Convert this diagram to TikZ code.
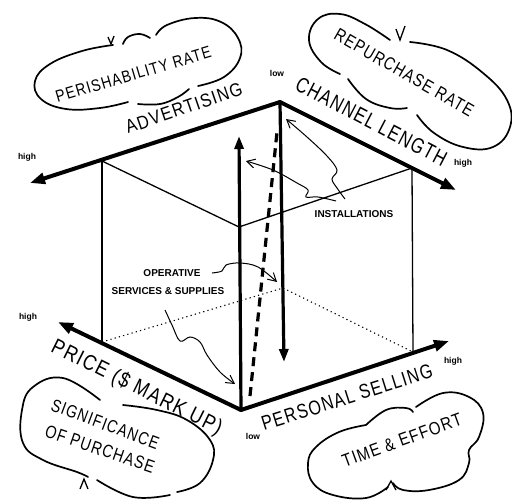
\documentclass[tikz,border=0pt]{standalone}
\usepackage{fontspec}
\setmainfont{Liberation Sans}
\newfontfamily\lett[LetterSpace=8]{Liberation Sans}
\usetikzlibrary{arrows.meta}
\begin{document}
\begin{tikzpicture}[x=1pt,y=-1pt,
  axis/.style={line width=4pt,line cap=round,-{Triangle[length=15pt,width=11pt]}},
  vert/.style={line width=3.2pt,-{Triangle[length=13pt,width=9pt]}},
  dashthick/.style={line width=3.2pt,dash pattern=on 9pt off 6pt},
  thinline/.style={line width=1.3pt},
  dotline/.style={line width=1.1pt,dash pattern=on 1.2pt off 3.2pt},
  ptr/.style={line width=1pt,-{Straight Barb[length=8pt,width=9pt]}},
  cloud/.style={line width=1.7pt,line cap=round},
  tick/.style={line width=1.3pt},
  biglab/.style={inner sep=0pt,anchor=base},
  smalllab/.style={inner sep=0pt,font=\fontsize{8.5}{8.5}\selectfont\bfseries},
  tinylab/.style={inner sep=0pt,font=\fontsize{10}{10}\selectfont\bfseries}]
\useasboundingbox (0,0) rectangle (512,499);

% key points
\coordinate (T) at (280,102);
\coordinate (TL) at (30,183);
\coordinate (TR) at (456,190);
\coordinate (B) at (241,410);
\coordinate (BL) at (58,322);
\coordinate (BR) at (449,341);
\coordinate (L1) at (102,161);
\coordinate (F1) at (239,227);
\coordinate (R1) at (412,168);
\coordinate (L0) at (102,342);
\coordinate (R0) at (413,352);
\coordinate (K0) at (283,288);
\coordinate (UpTip) at (239,136);
\coordinate (DnEnd) at (284,362);
\coordinate (DsA) at (250,396);
\coordinate (DsB) at (277,132);

% box
\draw[thinline] (L1) -- (L0);
\draw[thinline] (R1) -- (R0);
\draw[thinline] (L1) -- (F1) -- (R1);
\draw[dotline] (L0) -- (K0) -- (R0);

% axes
\draw[axis] (T) -- (TL);
\draw[axis] (T) -- (TR);
\draw[axis] (B) -- (BL);
\draw[axis] (B) -- (BR);

% verticals
\draw[vert] (B) -- (UpTip);
\draw[vert] (T) -- (DnEnd);
\draw[dashthick] (DsA) -- (DsB);

% axis labels
\node[biglab,rotate=19,yscale=1.16,font=\lett\fontsize{16.2}{16}\selectfont] (adv) at (186,114) {ADVERTISING};
\node[biglab,rotate=-27.5,yscale=1.3,font=\lett\fontsize{16.6}{16}\selectfont] (chl) at (368,128) {CHANNEL LENGTH};
\node[biglab,rotate=-26.5,yscale=1.2,font=\lett\fontsize{18}{18}\selectfont] (price) at (134,393) {PRICE (\$ MARK UP)};
\node[biglab,rotate=17.5,yscale=1.25,font=\lett\fontsize{16.1}{16}\selectfont] (pers) at (349,404) {PERSONAL SELLING};

\node[smalllab] (lowc) at (277,73) {low};
\node[smalllab] (highc) at (463,163) {high};
\node[smalllab] (hightl) at (27,157) {high};
\node[smalllab] (highbl) at (28,317) {high};
\node[smalllab] (highbr) at (453,361) {high};
\node[smalllab] (lowb) at (253,436) {low};

% inner labels
\node[tinylab] (inst) at (354,214) {INSTALLATIONS};
\node[tinylab] (oper) at (172,273) {OPERATIVE};
\node[tinylab] (serv) at (168,291) {SERVICES \& SUPPLIES};

% pointer curves
\draw[ptr] plot[smooth,tension=0.6] coordinates {(345,199) (337,188) (332,179) (337,170) (327,156) (307,137) (286,119)};
\draw[ptr] plot[smooth,tension=0.6] coordinates {(336,201) (318,197) (306,197) (308,190) (297,183) (273,170) (246,161)};
\draw[ptr] plot[smooth,tension=0.6] coordinates {(212,273) (222,271) (226,265) (240,263) (258,267) (277,282)};
\draw[ptr] plot[smooth,tension=0.6] coordinates {(165,310) (172,325) (180,341) (190,337) (200,342) (207,355) (220,372) (235,384)};

% cloud: perishability rate
\draw[cloud] plot[smooth,tension=0.7] coordinates {(113,45) (82,51) (50,64) (35,81) (41,99) (66,109) (100,108) (128,102)};
\draw[cloud] plot[smooth,tension=0.7] coordinates {(138,104) (160,104) (178,97) (189,89)};
\draw[cloud] plot[smooth,tension=0.7] coordinates {(198,86) (224,77) (240,58) (238,38) (221,22) (195,18) (167,25) (156,35)};
\draw[cloud] plot[smooth,tension=0.7] coordinates {(150,38) (140,34) (128,37) (123,44)};
\draw[tick] (108,37) -- (111,44) -- (114,36);
\node[biglab,rotate=16.5,yscale=1.2,font=\lett\fontsize{13.9}{14}\selectfont] (per) at (135,80) {PERISHABILITY RATE};

% cloud: repurchase rate
\draw[cloud] plot[smooth,tension=0.7] coordinates {(390,40) (365,24) (340,14) (318,19) (309,40) (321,62) (340,74)};
\draw[cloud] plot[smooth,tension=0.7] coordinates {(348,79) (366,99) (390,108) (407,108)};
\draw[cloud] plot[smooth,tension=0.7] coordinates {(417,115) (434,133) (463,147) (493,147) (510,127) (507,100) (483,73) (447,50) (410,42)};
\draw[tick] (396,29) -- (400,40) -- (405,26);
\node[biglab,rotate=-30,yscale=1.25,font=\lett\fontsize{14.5}{14}\selectfont] (rep) at (401,78) {REPURCHASE RATE};

% cloud: significance of purchase
\draw[cloud] plot[smooth,tension=0.7] coordinates {(100,400) (63,378) (33,387) (22,410) (23,443) (43,460) (77,472) (88,477)};
\draw[cloud] plot[smooth,tension=0.7] coordinates {(97,480) (133,497) (170,495)};
\draw[cloud] plot[smooth,tension=0.7] coordinates {(177,492) (200,483) (213,460) (210,440) (187,420) (157,410) (123,405)};
\draw[tick] (80,489) -- (84,479) -- (88,489);
\node[biglab,rotate=-20.5,yscale=1.25,font=\lett\fontsize{14.2}{14}\selectfont] (sig) at (103,430) {SIGNIFICANCE};
\node[biglab,rotate=-19,yscale=1.25,font=\lett\fontsize{14.4}{14}\selectfont] (ofp) at (98,455) {OF PURCHASE};

% cloud: time & effort
\draw[cloud] plot[smooth,tension=0.7] coordinates {(366,425) (386,410) (406,408) (413,412)};
\draw[cloud] plot[smooth,tension=0.7] coordinates {(416,407) (443,393) (469,397) (483,413) (479,437) (469,450) (469,463) (459,480) (429,490) (403,490) (393,483)};
\draw[cloud] plot[smooth,tension=0.7] coordinates {(388,487) (366,498) (333,495) (313,483) (308,463) (316,447) (339,432) (366,425)};
\draw[tick] (386,490) -- (391,481) -- (396,490);
\node[biglab,rotate=20,yscale=1.2,font=\lett\fontsize{15}{15}\selectfont] (time) at (404,446) {TIME \& EFFORT};
\end{tikzpicture}
\end{document}
